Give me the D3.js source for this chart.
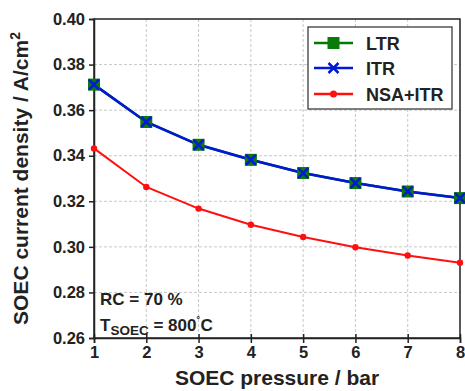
<!DOCTYPE html>
<html><head><meta charset="utf-8">
<script src="https://cdn.jsdelivr.net/npm/d3@7"></script>
<style>body{margin:0;background:#fff}svg{display:block}text{font-family:"Liberation Sans",Arial,sans-serif;font-weight:bold}</style>
</head><body><svg id="c" width="465" height="391"></svg>
<script>
const pressure = [1,2,3,4,5,6,7,8];
const ltr = [0.3712,0.3548,0.3448,0.3382,0.3324,0.3280,0.3243,0.3214];
const itr = [0.3712,0.3548,0.3448,0.3382,0.3324,0.3280,0.3243,0.3214];
const nsaItr = [0.3432,0.3263,0.3168,0.3097,0.3043,0.2998,0.2962,0.2930];
const yTicks = [0.26,0.28,0.30,0.32,0.34,0.36,0.38,0.40];
const seriesNames = ["LTR","ITR","NSA+ITR"];

const svg = d3.select("#c");
const L=94, R=460, T=19, B=338;
const x = d3.scaleLinear().domain([1,8]).range([L,R]);
const y = d3.scaleLinear().domain([0.26,0.40]).range([B,T]);

// grid
const g = svg.append("g");
g.selectAll(".gx").data(pressure.slice(1,-1)).join("line")
 .attr("x1",d=>x(d)).attr("x2",d=>x(d)).attr("y1",T).attr("y2",B)
 .attr("stroke","#c8c8c8").attr("stroke-dasharray","3,2").attr("stroke-width",1);
g.selectAll(".gy").data(yTicks.slice(1,-1)).join("line")
 .attr("y1",d=>y(d)).attr("y2",d=>y(d)).attr("x1",L).attr("x2",R)
 .attr("stroke","#c8c8c8").attr("stroke-dasharray","3,2").attr("stroke-width",1);

// frame
svg.append("rect").attr("x",L).attr("y",T).attr("width",R-L).attr("height",B-T)
 .attr("fill","none").attr("stroke","#222").attr("stroke-width",1.5);

// axes
const xa = svg.append("g").attr("transform",`translate(0,${B})`)
 .call(d3.axisBottom(x).tickValues(pressure).tickFormat(d3.format("d")).tickSize(5).tickPadding(3));
xa.selectAll(".tick line").attr("y1",-4);
const ya = svg.append("g").attr("transform",`translate(${L},0)`)
 .call(d3.axisLeft(y).tickValues(yTicks).tickFormat(d3.format(".2f")).tickSize(5).tickPadding(4));
[xa,ya].forEach(a=>{
  a.select(".domain").attr("stroke","#222").attr("stroke-width",1.5);
  a.selectAll(".tick line").attr("stroke","#222").attr("stroke-width",1.5);
  a.selectAll("text").attr("font-size",16.5).attr("fill","#222")
   .style("font-family","'Liberation Sans',Arial,sans-serif").style("font-weight","bold");
});

const line = d3.line().x((d,i)=>x(pressure[i])).y(d=>y(d));

svg.append("path").attr("d",line(ltr)).attr("fill","none").attr("stroke","#007a00").attr("stroke-width",2.5);
svg.append("path").attr("d",line(itr)).attr("fill","none").attr("stroke","#0018d8").attr("stroke-width",2.5);
svg.append("path").attr("d",line(nsaItr)).attr("fill","none").attr("stroke","#ff1010").attr("stroke-width",2);

svg.selectAll(".sq").data(ltr).join("rect")
 .attr("x",(d,i)=>x(pressure[i])-6).attr("y",d=>y(d)-6).attr("width",12).attr("height",12)
 .attr("fill","#0a7a0a");
svg.selectAll(".xm").data(itr).join("path")
 .attr("d",(d,i)=>{const cx=x(pressure[i]),cy=y(d),s=5;return `M${cx-s},${cy-s}L${cx+s},${cy+s}M${cx-s},${cy+s}L${cx+s},${cy-s}`;})
 .attr("stroke","#0018d8").attr("stroke-width",2.5);
svg.selectAll(".dt").data(nsaItr).join("circle")
 .attr("cx",(d,i)=>x(pressure[i])).attr("cy",d=>y(d)).attr("r",3.2).attr("fill","#ff1010");

// legend
const lg = svg.append("g");
lg.append("rect").attr("x",308).attr("y",27).attr("width",144).attr("height",82)
 .attr("fill","#fff").attr("stroke","#555").attr("stroke-width",1.5);
const ly=[43,68,94], colors=["#007a00","#0018d8","#ff1010"];
seriesNames.forEach((n,i)=>{
  lg.append("line").attr("x1",314).attr("x2",353).attr("y1",ly[i]).attr("y2",ly[i]).attr("stroke",colors[i]).attr("stroke-width",2.5);
  if(i===0) lg.append("rect").attr("x",327.5).attr("y",ly[i]-6).attr("width",12).attr("height",12).attr("fill","#0a7a0a");
  if(i===1) lg.append("path").attr("d",`M${333.5-5},${ly[i]-5}L${333.5+5},${ly[i]+5}M${333.5-5},${ly[i]+5}L${333.5+5},${ly[i]-5}`).attr("stroke",colors[i]).attr("stroke-width",2.5);
  if(i===2) lg.append("circle").attr("cx",333.5).attr("cy",ly[i]).attr("r",3.5).attr("fill",colors[i]);
  lg.append("text").attr("x",366).attr("y",ly[i]+6.5).attr("font-size",18).attr("fill","#222").text(n);
});

// annotations
svg.append("text").attr("x",100).attr("y",305).attr("font-size",17).attr("fill","#222").text("RC = 70 %");
const t2 = svg.append("text").attr("x",100).attr("y",331).attr("font-size",17).attr("fill","#222");
t2.append("tspan").text("T");
t2.append("tspan").attr("font-size",13.5).attr("dy",4).text("SOEC");
t2.append("tspan").attr("dy",-4).text(" = 800");
t2.append("tspan").attr("font-size",12).attr("dy",-5).text("˚");
t2.append("tspan").attr("dy",5).text("C");

// axis titles
svg.append("text").attr("x",277).attr("y",385).attr("text-anchor","middle").attr("font-size",21).attr("fill","#222").text("SOEC pressure / bar");
const yt = svg.append("text").attr("transform",`translate(28,${(T+B)/2}) rotate(-90)`).attr("text-anchor","middle").attr("font-size",21).attr("fill","#222");
yt.append("tspan").text("SOEC current density / A/cm");
yt.append("tspan").attr("font-size",14).attr("dy",-8).text("2");
</script></body></html>
